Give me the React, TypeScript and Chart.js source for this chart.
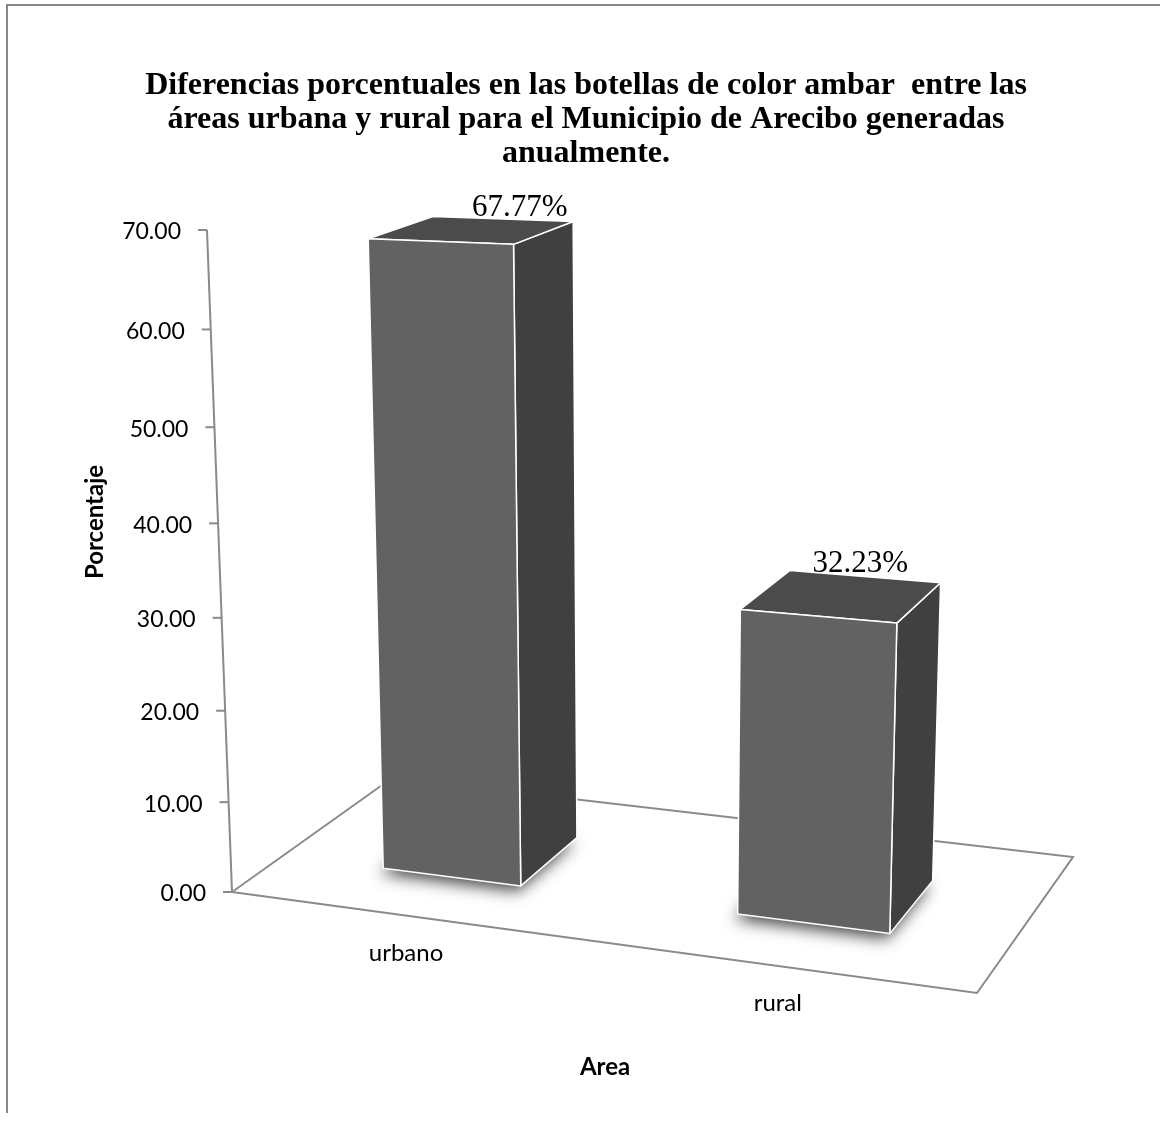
import React, { useEffect, useRef } from "react";
import { Chart, registerables } from "chart.js";

Chart.register(...registerables);

// ---------- data ----------
const categories: string[] = ["urbano", "rural"];
const percentages: number[] = [67.77, 32.23];
const yMin = 0;
const yMax = 70;
const yStep = 10;
const titleLines: string[] = [
  "Diferencias porcentuales en las botellas de color ambar  entre las",
  "áreas urbana y rural para el Municipio de Arecibo generadas",
  "anualmente.",
];
const yAxisTitle = "Porcentaje";
const xAxisTitle = "Area";

// ---------- view (3D projection / style) ----------
const FLOOR = { fl: [232, 892], fr: [977, 993], br: [1073, 857], bl: [392, 778] };
const VERTICAL_VP = [643.5, 11779];
const AXIS_TOP_Y = 230;
const BAR_DEPTH = [0.3, 0.7];
const COLORS = {
  front: "#626262",
  side: "#404040",
  top: "#4b4b4b",
  edge: "#ffffff",
  floor: "#8a8a8a",
  frame: "#888888",
};

function makeProjector() {
  const [x0, y0] = FLOOR.fl;
  const [x1, y1] = FLOOR.fr;
  const [x2, y2] = FLOOR.br;
  const [x3, y3] = FLOOR.bl;
  const dx1 = x1 - x2, dx2 = x3 - x2, dx3 = x0 - x1 + x2 - x3;
  const dy1 = y1 - y2, dy2 = y3 - y2, dy3 = y0 - y1 + y2 - y3;
  const den = dx1 * dy2 - dx2 * dy1;
  const g = (dx3 * dy2 - dx2 * dy3) / den;
  const h = (dx1 * dy3 - dx3 * dy1) / den;
  const a = x1 - x0 + g * x1, b = x3 - x0 + h * x3, c = x0;
  const d = y1 - y0 + g * y1, e = y3 - y0 + h * y3, f = y0;
  const [xv, yv] = VERTICAL_VP;
  const L = (AXIS_TOP_Y - y0) / (yv - AXIS_TOP_Y);
  return (u: number, v: number, z: number) => {
    const X = a * u + b * v + c + z * L * xv;
    const Y = d * u + e * v + f + z * L * yv;
    const W = g * u + h * v + 1 + z * L;
    return { x: X / W, y: Y / W };
  };
}

type Pt = { x: number; y: number };

function poly(ctx: CanvasRenderingContext2D, pts: Pt[]) {
  ctx.beginPath();
  ctx.moveTo(pts[0].x, pts[0].y);
  for (let i = 1; i < pts.length; i++) ctx.lineTo(pts[i].x, pts[i].y);
  ctx.closePath();
}

const scene3d = {
  id: "scene3d",
  beforeDraw(chart: any) {
    const ctx: CanvasRenderingContext2D = chart.ctx;
    ctx.save();
    ctx.fillStyle = "#ffffff";
    ctx.fillRect(0, 0, chart.width, chart.height);
    ctx.strokeStyle = COLORS.frame;
    ctx.lineWidth = 2;
    ctx.beginPath();
    ctx.moveTo(7, 1113);
    ctx.lineTo(7, 5);
    ctx.lineTo(chart.width, 5);
    ctx.stroke();
    ctx.restore();
  },
  afterDraw(chart: any) {
    const ctx: CanvasRenderingContext2D = chart.ctx;
    const P = makeProjector();
    const area = chart.chartArea;
    const ys = chart.scales.y;
    const base = ys.getPixelForValue(yMin);
    const full = base - ys.getPixelForValue(yMax);
    const frac = (val: number) => (base - ys.getPixelForValue(val)) / full;

    ctx.save();
    // floor
    poly(ctx, [P(0, 0, 0), P(1, 0, 0), P(1, 1, 0), P(0, 1, 0)]);
    ctx.fillStyle = "#ffffff";
    ctx.fill();
    ctx.strokeStyle = COLORS.floor;
    ctx.lineWidth = 2;
    ctx.lineJoin = "miter";
    ctx.stroke();

    // value axis
    const a0 = P(0, 0, 0);
    const a1 = P(0, 0, 1);
    ctx.beginPath();
    ctx.moveTo(a0.x, a0.y);
    ctx.lineTo(a1.x, a1.y);
    ctx.stroke();

    ctx.font = "23px Lato";
    ctx.fillStyle = "#000000";
    ctx.textAlign = "right";
    ctx.textBaseline = "middle";
    (ys.ticks as any[]).forEach((t) => {
      const p = P(0, 0, frac(t.value));
      ctx.beginPath();
      ctx.moveTo(p.x - 9, p.y);
      ctx.lineTo(p.x, p.y);
      ctx.strokeStyle = COLORS.floor;
      ctx.lineWidth = 2;
      ctx.stroke();
      ctx.fillText(Number(t.value).toFixed(2), p.x - 26, p.y + 2);
    });

    // bars
    const meta = chart.getDatasetMeta(0);
    const [vF, vB] = BAR_DEPTH;
    meta.data.forEach((el: any, i: number) => {
      const u0 = (el.x - el.width / 2 - area.left) / area.width;
      const u1 = (el.x + el.width / 2 - area.left) / area.width;
      const uc = (el.x - area.left) / area.width;
      const z = frac(percentages[i]);

      // soft shadow at base
      ctx.save();
      poly(ctx, [P(u0, vF, 0), P(u1, vF, 0), P(u1, vB, 0), P(u0, vB, 0)]);
      ctx.fillStyle = "#555555";
      ctx.shadowColor = "rgba(0,0,0,0.75)";
      ctx.shadowBlur = 16;
      ctx.shadowOffsetX = -3;
      ctx.shadowOffsetY = 5;
      ctx.fill();
      ctx.restore();

      const front = [P(u0, vF, 0), P(u1, vF, 0), P(u1, vF, z), P(u0, vF, z)];
      const side = [P(u1, vF, 0), P(u1, vB, 0), P(u1, vB, z), P(u1, vF, z)];
      const top = [P(u0, vF, z), P(u1, vF, z), P(u1, vB, z), P(u0, vB, z)];
      ctx.lineWidth = 1.5;
      ctx.lineJoin = "round";
      ctx.strokeStyle = COLORS.edge;
      [
        [side, COLORS.side],
        [top, COLORS.top],
        [front, COLORS.front],
      ].forEach(([pts, col]: any) => {
        poly(ctx, pts);
        ctx.fillStyle = col;
        ctx.fill();
        ctx.stroke();
      });

      // value label (pulled slightly toward the centre of the floor)
      const lp = P(uc + (0.5 - uc) * 0.06, vB, z);
      ctx.font = '31px "Liberation Serif"';
      ctx.fillStyle = "#000000";
      ctx.textAlign = "center";
      ctx.textBaseline = "middle";
      ctx.fillText(percentages[i].toFixed(2) + "%", lp.x + 7, lp.y - 12);

      // category label
      const cp = P(uc, 0, 0);
      ctx.font = "24px Lato";
      ctx.fillText(categories[i], cp.x + 2, cp.y + 38);
    });

    // axis titles
    ctx.font = "bold 24px Lato";
    ctx.fillStyle = "#000000";
    ctx.textAlign = "center";
    ctx.textBaseline = "middle";
    ctx.fillText(xAxisTitle, 605, 1067);
    ctx.save();
    ctx.translate(95, 522);
    ctx.rotate(-Math.PI / 2);
    ctx.fillText(yAxisTitle, 0, 0);
    ctx.restore();

    ctx.restore();
  },
};

export default function App() {
  const ref = useRef<HTMLCanvasElement | null>(null);
  useEffect(() => {
    if (!ref.current) return;
    const chart = new Chart(ref.current, {
      type: "bar",
      data: {
        labels: categories,
        datasets: [
          {
            data: percentages,
            backgroundColor: "rgba(0,0,0,0)",
            borderWidth: 0,
            categoryPercentage: 0.8,
            barPercentage: 0.5,
          },
        ],
      },
      options: {
        responsive: false,
        animation: false,
        devicePixelRatio: 1,
        layout: { padding: { left: 12 } },
        plugins: {
          legend: { display: false },
          tooltip: { enabled: false },
          title: {
            display: true,
            text: titleLines,
            color: "#000000",
            font: { family: "Liberation Serif", size: 32, weight: "bold", lineHeight: 1.0625 },
            padding: { top: 69, bottom: 20 },
          },
        },
        scales: {
          x: { display: false, offset: true },
          y: { display: false, min: yMin, max: yMax, ticks: { stepSize: yStep } },
        },
      },
      plugins: [scene3d],
    });
    return () => chart.destroy();
  }, []);
  return (
    <div style={{ position: "fixed", left: 0, top: 0, width: 1160, height: 1125, background: "#fff" }}>
      <canvas ref={ref} width={1160} height={1125} style={{ display: "block" }} />
    </div>
  );
}
